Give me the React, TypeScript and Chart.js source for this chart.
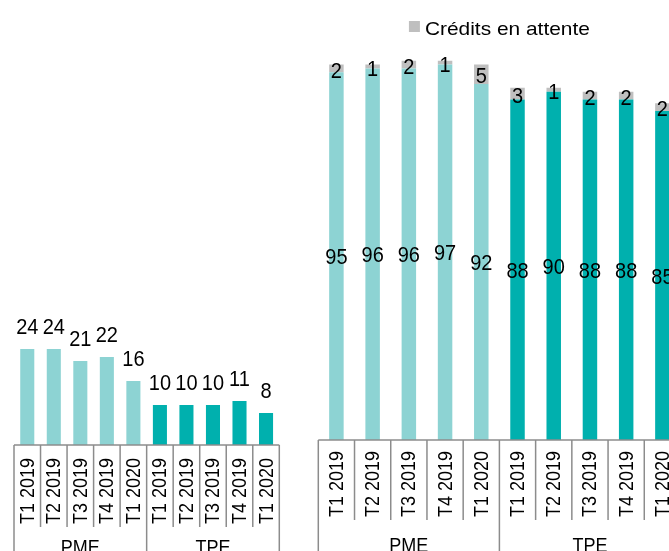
import React, { useEffect, useRef } from "react";
import { Chart, registerables } from "chart.js";

Chart.register(...registerables);

// ---------- data ----------
const categories = [
  "T1 2019", "T2 2019", "T3 2019", "T4 2019", "T1 2020",
  "T1 2019", "T2 2019", "T3 2019", "T4 2019", "T1 2020",
];
const groups = ["PME", "TPE"];
const groupSizes = [5, 5];

// left panel
const leftValues = [24, 24, 21, 22, 16, 10, 10, 10, 11, 8];

// right panel (stacked)
const grantedLabel = "Crédits accordés";
const grantedValues = [95, 96, 96, 97, 92, 88, 90, 88, 88, 85];
const pendingLabel = "Crédits en attente";
const pendingValues = [2, 1, 2, 1, 5, 3, 1, 2, 2, 2];

// ---------- styles ----------
const LIGHT = "#8dd3d3";
const DARK = "#00b0ae";
const GREY = "#bfbfbf";
const LINE = "#8c8c8c";
const FONT = "'Liberation Sans', Arial, sans-serif";

const groupColors = (): string[] => {
  const out: string[] = [];
  groupSizes.forEach((n, g) => {
    for (let i = 0; i < n; i++) out.push(g === 0 ? LIGHT : DARK);
  });
  return out;
};

function scaledText(ctx: CanvasRenderingContext2D, text: string, x: number, y: number, sx: number, sy: number) {
  ctx.save();
  ctx.translate(x, y);
  ctx.scale(sx, sy);
  ctx.fillText(text, 0, 0);
  ctx.restore();
}

function makeAxisPlugin(minorDrop: number, tickFont: number, groupFont: number, groupBaseline: number) {
  return {
    id: "catAxis",
    afterDraw(chart: any) {
      const ctx = chart.ctx as CanvasRenderingContext2D;
      const area = chart.chartArea;
      const xs = chart.scales.x;
      const n = categories.length;
      const w = (area.right - area.left) / n;
      const y0 = area.bottom;
      const H = chart.height;
      ctx.save();
      ctx.strokeStyle = LINE;
      ctx.lineWidth = 1.5;
      ctx.beginPath();
      ctx.moveTo(area.left, y0);
      ctx.lineTo(area.right, y0);
      ctx.stroke();
      const groupStarts = new Set<number>();
      let acc = 0;
      groupStarts.add(0);
      groupSizes.forEach((s) => {
        acc += s;
        groupStarts.add(acc);
      });
      for (let i = 0; i <= n; i++) {
        const bx = i < n ? xs.getPixelForValue(i) - w / 2 : xs.getPixelForValue(n - 1) + w / 2;
        const end = groupStarts.has(i) ? H : y0 + minorDrop;
        ctx.beginPath();
        ctx.moveTo(bx, y0);
        ctx.lineTo(bx, end);
        ctx.stroke();
      }
      ctx.fillStyle = "#000";
      ctx.font = `${tickFont}px ${FONT}`;
      ctx.textAlign = "left";
      ctx.textBaseline = "middle";
      for (let i = 0; i < n; i++) {
        const cx = xs.getPixelForValue(i);
        ctx.save();
        ctx.translate(cx + 1, y0 + minorDrop - 3);
        ctx.rotate(-Math.PI / 2);
        ctx.scale(1, 1.1);
        ctx.fillText(categories[i], 0, 0);
        ctx.restore();
      }
      ctx.font = `${groupFont}px ${FONT}`;
      ctx.textAlign = "center";
      ctx.textBaseline = "alphabetic";
      let start = 0;
      groupSizes.forEach((s, g) => {
        const a = xs.getPixelForValue(start) - w / 2;
        const b = xs.getPixelForValue(start + s - 1) + w / 2;
        scaledText(ctx, groups[g], (a + b) / 2, groupBaseline, 1, 1.1);
        start += s;
      });
      ctx.restore();
    },
  };
}

const leftLabelsPlugin = {
  id: "leftLabels",
  afterDatasetsDraw(chart: any) {
    const ctx = chart.ctx as CanvasRenderingContext2D;
    const meta = chart.getDatasetMeta(0);
    ctx.save();
    ctx.fillStyle = "#000";
    ctx.font = `20px ${FONT}`;
    ctx.textAlign = "center";
    ctx.textBaseline = "alphabetic";
    meta.data.forEach((bar: any, i: number) => {
      scaledText(ctx, String(leftValues[i]), bar.x, bar.y - 15, 1, 1.14);
    });
    ctx.restore();
  },
};

const rightLabelsPlugin = {
  id: "rightLabels",
  afterDatasetsDraw(chart: any) {
    const ctx = chart.ctx as CanvasRenderingContext2D;
    ctx.save();
    ctx.fillStyle = "#000";
    ctx.font = `20px ${FONT}`;
    ctx.textAlign = "center";
    ctx.textBaseline = "middle";
    const m0 = chart.getDatasetMeta(0);
    const m1 = chart.getDatasetMeta(1);
    m0.data.forEach((bar: any, i: number) => {
      scaledText(ctx, String(grantedValues[i]), bar.x, (bar.y + bar.base) / 2 + 2, 1, 1.12);
    });
    m1.data.forEach((bar: any, i: number) => {
      scaledText(ctx, String(pendingValues[i]), bar.x, (bar.y + bar.base) / 2 + 3, 1, 1.12);
    });
    // legend (only pending series shown)
    const area = chart.chartArea;
    ctx.font = `19px ${FONT}`;
    const sx = 1.1;
    const tw = ctx.measureText(pendingLabel).width * sx;
    const box = 11;
    const gap = 5;
    const total = box + gap + tw;
    const cx = (area.left + area.right) / 2;
    const lx = cx - total / 2;
    ctx.fillStyle = GREY;
    ctx.fillRect(lx, 21, box, box);
    ctx.fillStyle = "#000";
    ctx.textAlign = "left";
    ctx.textBaseline = "alphabetic";
    scaledText(ctx, pendingLabel, lx + box + gap, 35, sx, 1);
    ctx.restore();
  },
};

function LeftChart() {
  const ref = useRef<HTMLCanvasElement>(null);
  useEffect(() => {
    const chart = new Chart(ref.current!, {
      type: "bar",
      data: {
        labels: categories,
        datasets: [
          {
            label: "Crédits refusés",
            data: leftValues,
            backgroundColor: groupColors(),
            barPercentage: 0.53,
            categoryPercentage: 1,
          },
        ],
      },
      options: {
        responsive: false,
        animation: false,
        layout: { padding: { left: 14, right: 20.7, top: 45, bottom: 155 } },
        plugins: { legend: { display: false }, tooltip: { enabled: false } },
        scales: {
          x: { display: false },
          y: { display: false, min: 0, max: 100 },
        },
      },
      plugins: [makeAxisPlugin(82, 18, 18, 554), leftLabelsPlugin],
    });
    return () => chart.destroy();
  }, []);
  return <canvas ref={ref} width={300} height={600} style={{ position: "absolute", left: 0, top: 0, width: 300, height: 600 }} />;
}

function RightChart() {
  const ref = useRef<HTMLCanvasElement>(null);
  useEffect(() => {
    const chart = new Chart(ref.current!, {
      type: "bar",
      data: {
        labels: categories,
        datasets: [
          {
            label: grantedLabel,
            data: grantedValues,
            backgroundColor: groupColors(),
            barPercentage: 0.4,
            categoryPercentage: 1,
          },
          {
            label: pendingLabel,
            data: pendingValues,
            backgroundColor: GREY,
            barPercentage: 0.4,
            categoryPercentage: 1,
          },
        ],
      },
      options: {
        responsive: false,
        animation: false,
        layout: { padding: { left: 18.3, right: 19.5, top: 53, bottom: 160 } },
        plugins: { legend: { display: false }, tooltip: { enabled: false } },
        scales: {
          x: { display: false, stacked: true },
          y: { display: false, stacked: true, min: 0, max: 100 },
        },
      },
      plugins: [makeAxisPlugin(80, 18, 18, 552), rightLabelsPlugin],
    });
    return () => chart.destroy();
  }, []);
  return <canvas ref={ref} width={400} height={600} style={{ position: "absolute", left: 300, top: 0, width: 400, height: 600 }} />;
}

export default function App() {
  return (
    <div
      style={{
        position: "fixed",
        left: 0,
        top: 0,
        width: 669,
        height: 551,
        overflow: "hidden",
        background: "#fff",
      }}
    >
      <LeftChart />
      <RightChart />
    </div>
  );
}
